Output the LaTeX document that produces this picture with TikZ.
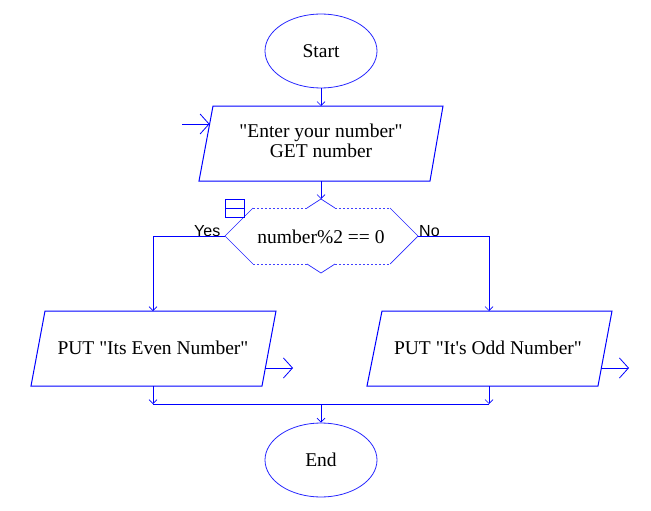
\documentclass[tikz,border=0pt]{standalone}
\usepackage{fontspec}
\setmainfont{Liberation Serif}
\newfontfamily\branchfont{Liberation Sans}
\usetikzlibrary{arrows.meta,shapes.geometric,positioning}
\definecolor{flowblue}{RGB}{0,0,255}
\tikzset{
    flowline/.style={draw=flowblue,line width=1pt},
    thinline/.style={draw=flowblue!85,line width=0.7pt},
    dotline/.style={draw=flowblue!75,line width=0.7pt,dash pattern=on 2pt off 2pt},
    smalltip/.style={-{Straight Barb[length=4pt,width=8pt,line width=0.7pt]}},
    bigtip/.style={-{Straight Barb[length=9pt,width=20pt,line width=0.8pt]}},
    terminal/.style={ellipse,draw=flowblue!85,line width=0.8pt,minimum width=112pt,minimum height=74pt,inner sep=0pt,font=\fontsize{19.5}{22}\selectfont},
    boxtext/.style={font=\fontsize{19.5}{20}\selectfont,align=center,inner sep=0pt},
    branch/.style={font=\branchfont\fontsize{16}{18}\selectfont,inner sep=0pt}
}

\begin{document}
\begin{tikzpicture}[x=1pt,y=-1pt]
\useasboundingbox (0,0) rectangle (651,511);

\node[terminal] (start) at (321,51) {Start};
\node[terminal] (end) at (321,460) {End};

\coordinate (intop) at (321,106);
\coordinate (inbot) at (321,181);
\coordinate (inleft) at (209.6,124);
\coordinate (entry) at (182,124);
\draw[flowline] (213,106) -- (443,106) -- (430,181) -- (199,181) -- cycle;
\node[boxtext] (input) at (321,141) {\textquotedbl Enter your number\textquotedbl\\GET number};

\coordinate (dleft) at (225,236);
\coordinate (dright) at (418,236);
\coordinate (dtop) at (321,199);
\coordinate (dbot) at (321,273);
\draw[thinline] (253,208) -- (dleft) -- (253,264);
\draw[thinline] (390,208) -- (dright) -- (390,264);
\draw[thinline] (307,208) -- (dtop) -- (335,208);
\draw[thinline] (307,264) -- (dbot) -- (335,264);
\draw[dotline] (253,208) -- (307,208);
\draw[dotline] (335,208) -- (390,208);
\draw[dotline] (253,264) -- (307,264);
\draw[dotline] (335,264) -- (390,264);
\node[boxtext] (cond) at (321,237) {number\%2 == 0};

\draw[flowline] (225,199) rectangle (244,217);
\draw[flowline] (225,208) -- (244,208);

\node[branch,anchor=base west] (yes) at (194,236) {Yes};
\node[branch,anchor=base west] (no) at (419,236) {No};

\coordinate (evtop) at (153,311);
\coordinate (evbot) at (153,386);
\coordinate (evout) at (265.4,368);
\coordinate (evend) at (293,368);
\draw[flowline] (45,311) -- (276,311) -- (262,386) -- (31,386) -- cycle;
\node[boxtext] (even) at (153,348) {PUT \textquotedbl Its Even Number\textquotedbl};

\coordinate (odtop) at (489,311);
\coordinate (odbot) at (489,386);
\coordinate (odout) at (601.4,368);
\coordinate (odend) at (629,368);
\draw[flowline] (382,311) -- (612,311) -- (598,386) -- (367,386) -- cycle;
\node[boxtext] (odd) at (488,348) {PUT \textquotedbl It\textquotesingle s Odd Number\textquotedbl};

\coordinate (evjoin) at (153,404);
\coordinate (odjoin) at (489,404);
\coordinate (midjoin) at (321,404);

\draw[flowline,smalltip] (start) -- (intop);
\draw[flowline,bigtip] (entry) -- (inleft);
\draw[flowline,smalltip] (inbot) -- (dtop);
\draw[flowline,smalltip] (dleft) -| (evtop);
\draw[flowline,smalltip] (dright) -| (odtop);
\draw[flowline,bigtip] (evout) -- (evend);
\draw[flowline,bigtip] (odout) -- (odend);
\draw[flowline,smalltip] (evbot) -- (evjoin);
\draw[flowline,smalltip] (odbot) -- (odjoin);
\draw[flowline] (evjoin) -- (odjoin);
\draw[flowline,smalltip] (midjoin) -- (end);
\end{tikzpicture}
\end{document}
